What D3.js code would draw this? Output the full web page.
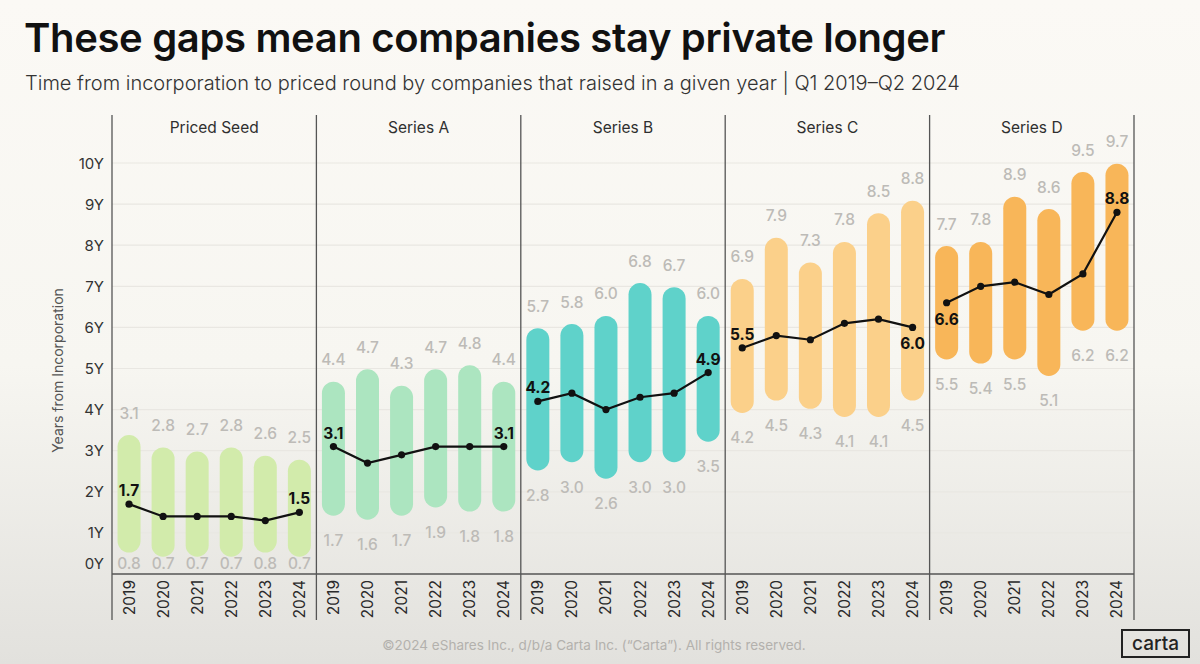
<!DOCTYPE html>
<html>
<head>
<meta charset="utf-8">
<script src="https://cdn.jsdelivr.net/npm/d3@7"></script>
<style>
  html, body { margin: 0; padding: 0; }
  body { width: 1200px; height: 664px; overflow: hidden; font-family: Inter, "Noto Sans", sans-serif; }
</style>
</head>
<body>
<div id="chart"></div>
<script>
// Data
const rounds = ["Priced Seed", "Series A", "Series B", "Series C", "Series D"];
const years = ["2019", "2020", "2021", "2022", "2023", "2024"];

// upper range, lower range and median (years from incorporation)
const highs = [
  [3.1, 2.8, 2.7, 2.8, 2.6, 2.5],
  [4.4, 4.7, 4.3, 4.7, 4.8, 4.4],
  [5.7, 5.8, 6.0, 6.8, 6.7, 6.0],
  [6.9, 7.9, 7.3, 7.8, 8.5, 8.8],
  [7.7, 7.8, 8.9, 8.6, 9.5, 9.7]
];
const lows = [
  [0.8, 0.7, 0.7, 0.7, 0.8, 0.7],
  [1.7, 1.6, 1.7, 1.9, 1.8, 1.8],
  [2.8, 3.0, 2.6, 3.0, 3.0, 3.5],
  [4.2, 4.5, 4.3, 4.1, 4.1, 4.5],
  [5.5, 5.4, 5.5, 5.1, 6.2, 6.2]
];
const medians = [
  [1.7, 1.4, 1.4, 1.4, 1.3, 1.5],
  [3.1, 2.7, 2.9, 3.1, 3.1, 3.1],
  [4.2, 4.4, 4.0, 4.3, 4.4, 4.9],
  [5.5, 5.8, 5.7, 6.1, 6.2, 6.0],
  [6.6, 7.0, 7.1, 6.8, 7.3, 8.8]
];
const yTicks = [0, 1, 2, 3, 4, 5, 6, 7, 8, 9, 10];

// styling
const colors = ["#d2ebab", "#ace5c0", "#5fd2ca", "#fbd08a", "#f8b659"];
// which side the first / last median label sits on
const labelSide = [["up", "up"], ["up", "up"], ["up", "up"], ["up", "down"], ["down", "up"]];

const width = 1200, height = 664;
const left = 112, right = 1134, axisY = 574, topY = 163;

const svg = d3.select("#chart").append("svg")
    .attr("width", width)
    .attr("height", height);

// background wash, lighter at the top
const defs = svg.append("defs");
const grad = defs.append("linearGradient")
    .attr("id", "bg").attr("x1", 0).attr("y1", 0).attr("x2", 0).attr("y2", 1);
grad.append("stop").attr("offset", "0%").attr("stop-color", "#fbf9f5");
grad.append("stop").attr("offset", "55%").attr("stop-color", "#f7f6f1");
grad.append("stop").attr("offset", "100%").attr("stop-color", "#e2e1dd");
svg.append("rect").attr("width", width).attr("height", height).attr("fill", "url(#bg)");

// titles
svg.append("text")
    .attr("x", 24).attr("y", 52)
    .attr("font-size", 40).attr("font-weight", 600)
    .attr("fill", "#111")
    .attr("letter-spacing", -0.35)
    .text("These gaps mean companies stay private longer");

svg.append("text")
    .attr("x", 25).attr("y", 90)
    .attr("font-size", 20).attr("font-weight", 300)
    .attr("fill", "#333")
    .text("Time from incorporation to priced round by companies that raised in a given year  |  Q1 2019\u2013Q2 2024");

// scales
const y = d3.scaleLinear().domain([0, 10]).range([axisY, topY]);
const panel = d3.scaleBand().domain(rounds).range([left, right]);

// gridlines
svg.append("g")
  .selectAll("line")
  .data(yTicks.slice(1))
  .join("line")
    .attr("x1", left).attr("x2", right)
    .attr("y1", d => y(d)).attr("y2", d => y(d))
    .attr("stroke", "#e9e7e2")
    .attr("stroke-width", 1.2);

// y tick labels
svg.append("g")
  .selectAll("text")
  .data(yTicks)
  .join("text")
    .attr("x", 104)
    .attr("y", d => d === 0 ? y(d) - 5 : y(d) + 5.5)
    .attr("text-anchor", "end")
    .attr("font-size", 15)
    .attr("fill", "#333")
    .text(d => d + "Y");

svg.append("text")
    .attr("transform", `translate(63, ${(topY + axisY) / 2 + 2}) rotate(-90)`)
    .attr("text-anchor", "middle")
    .attr("font-size", 14)
    .attr("fill", "#555")
    .text("Years from Incorporation");

// bottom axis line
svg.append("line")
    .attr("x1", left).attr("x2", right)
    .attr("y1", axisY).attr("y2", axisY)
    .attr("stroke", "#555").attr("stroke-width", 1.3);

// panel dividers
svg.append("g")
  .selectAll("line")
  .data(d3.range(rounds.length + 1))
  .join("line")
    .attr("x1", i => left + i * panel.bandwidth())
    .attr("x2", i => left + i * panel.bandwidth())
    .attr("y1", 115).attr("y2", 620)
    .attr("stroke", "#555").attr("stroke-width", 1.3);

const line = d3.line();

rounds.forEach((round, r) => {
  const px = panel(round);
  const x = d3.scaleBand().domain(years).range([px, px + panel.bandwidth()]);
  const cx = d => x(d) + x.bandwidth() / 2;
  const g = svg.append("g");

  g.append("text")
      .attr("x", px + panel.bandwidth() / 2).attr("y", 133)
      .attr("text-anchor", "middle")
      .attr("font-size", 15.5)
      .attr("fill", "#2f2f2f")
      .text(round);

  // range bars
  g.selectAll("line.bar")
    .data(years)
    .join("line")
      .attr("class", "bar")
      .attr("x1", cx).attr("x2", cx)
      .attr("y1", (d, i) => y(lows[r][i]))
      .attr("y2", (d, i) => y(highs[r][i]))
      .attr("stroke", colors[r])
      .attr("stroke-width", 23)
      .attr("stroke-linecap", "round");

  // high labels
  g.selectAll("text.hi")
    .data(years)
    .join("text")
      .attr("class", "hi")
      .attr("x", cx)
      .attr("y", (d, i) => y(highs[r][i]) - 28)
      .attr("text-anchor", "middle")
      .attr("font-size", 15.5)
      .attr("font-weight", 500)
      .attr("fill", "#bdbbb7")
      .text((d, i) => highs[r][i].toFixed(1));

  // low labels
  g.selectAll("text.lo")
    .data(years)
    .join("text")
      .attr("class", "lo")
      .attr("x", cx)
      .attr("y", (d, i) => Math.min(y(lows[r][i]) + 42, 569))
      .attr("text-anchor", "middle")
      .attr("font-size", 15.5)
      .attr("font-weight", 500)
      .attr("fill", "#bdbbb7")
      .text((d, i) => lows[r][i].toFixed(1));

  // median line
  const pts = years.map((d, i) => [cx(d), y(medians[r][i])]);
  g.append("path")
      .attr("d", line(pts))
      .attr("fill", "none")
      .attr("stroke", "#111")
      .attr("stroke-width", 2.2);
  g.selectAll("circle")
    .data(pts)
    .join("circle")
      .attr("cx", d => d[0]).attr("cy", d => d[1])
      .attr("r", 3.6)
      .attr("fill", "#111");

  [0, years.length - 1].forEach((i, k) => {
    const up = labelSide[r][k] === "up";
    g.append("text")
        .attr("x", cx(years[i]))
        .attr("y", y(medians[r][i]) + (up ? -8 : 22))
        .attr("text-anchor", "middle")
        .attr("font-size", 15.5)
        .attr("font-weight", 700)
        .attr("fill", "#111")
        .text(medians[r][i].toFixed(1));
  });

  // year labels
  g.selectAll("text.yr")
    .data(years)
    .join("text")
      .attr("class", "yr")
      .attr("transform", d => `translate(${cx(d) + 5.5}, 580) rotate(-90)`)
      .attr("text-anchor", "end")
      .attr("font-size", 15.5)
      .attr("fill", "#2a2a2a")
      .text(d => d);
});

// footer
svg.append("text")
    .attr("x", 594).attr("y", 650)
    .attr("text-anchor", "middle")
    .attr("font-size", 13.5)
    .attr("fill", "#b3b1ad")
    .text("\u00a92024 eShares Inc., d/b/a Carta Inc. (\u201cCarta\u201d). All rights reserved.");

svg.append("rect")
    .attr("x", 1122).attr("y", 630)
    .attr("width", 67).attr("height", 27)
    .attr("fill", "none")
    .attr("stroke", "#222").attr("stroke-width", 2);
svg.append("text")
    .attr("x", 1155.5).attr("y", 649.5)
    .attr("text-anchor", "middle")
    .attr("font-size", 19)
    .attr("font-weight", 500)
    .attr("fill", "#222")
    .text("carta");
</script>
</body>
</html>
